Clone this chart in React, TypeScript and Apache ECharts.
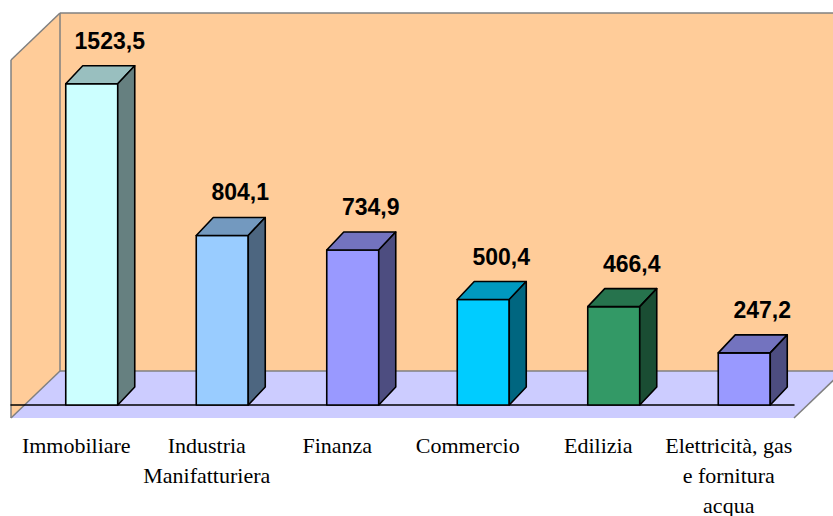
import React, { useEffect, useRef } from "react";
import * as echarts from "echarts";

const categories = [
  "Immobiliare",
  "Industria\nManifatturiera",
  "Finanza",
  "Commercio",
  "Edilizia",
  "Elettricità, gas\ne fornitura\nacqua",
];
const values = [1523.5, 804.1, 734.9, 500.4, 466.4, 247.2];
const valueLabels = ["1523,5", "804,1", "734,9", "500,4", "466,4", "247,2"];
const frontColors = ["#CCFFFF", "#99CCFF", "#9999FF", "#00CCFF", "#339966", "#9999FF"];
const topColors = ["#99BFBF", "#7399BF", "#7373BF", "#0099BF", "#26734D", "#7373BF"];
const sideColors = ["#668080", "#4D6680", "#4D4D80", "#006680", "#1A4D33", "#4D4D80"];

const DX = 17;
const DY = -18;
const BAR_W = 52;

export default function App() {
  const ref = useRef<HTMLDivElement>(null);
  useEffect(() => {
    document.body.style.margin = "0";
    if (!ref.current) return;
    const chart = echarts.init(ref.current, undefined, { renderer: "svg" });
    const grey = "#808080";
    const edge = { stroke: grey, lineWidth: 1.5 };
    const option: any = {
      animation: false,
      backgroundColor: "#ffffff",
      grid: { left: 11, right: 39, bottom: 111, top: 46.6, containLabel: false, outerBoundsMode: "none" },
      xAxis: {
        type: "category",
        data: categories,
        offset: 13,
        z: 3,
        axisLine: { lineStyle: { color: "#000", width: 1.5 } },
        axisTick: { length: 6, lineStyle: { color: "#000", width: 1 } },
        axisLabel: {
          interval: 0,
          margin: 12,
          color: "#000",
          fontFamily: "Liberation Serif",
          fontSize: 22,
          lineHeight: 30,
        },
      },
      yAxis: {
        type: "value",
        min: 0,
        max: 1700,
        show: false,
        splitLine: { show: false },
      },
      graphic: [
        { type: "polygon", z: 0, shape: { points: [[60, 13], [840, 13], [840, 371], [60, 371]] }, style: { fill: "#FFCC99" } },
        { type: "polygon", z: 0, shape: { points: [[11, 60], [60, 13], [60, 371], [11, 418]] }, style: { fill: "#FFCC99" } },
        { type: "polygon", z: 0, shape: { points: [[11, 418], [60, 371], [843, 371], [794, 418]] }, style: { fill: "#CCCCFF" } },
        { type: "line", z: 1, shape: { x1: 60, y1: 13, x2: 840, y2: 13 }, style: edge },
        { type: "line", z: 1, shape: { x1: 11, y1: 60, x2: 60, y2: 13 }, style: edge },
        { type: "line", z: 1, shape: { x1: 11, y1: 60, x2: 11, y2: 418 }, style: edge },
        { type: "line", z: 1, shape: { x1: 60, y1: 13, x2: 60, y2: 371 }, style: edge },
        { type: "line", z: 1, shape: { x1: 60, y1: 371, x2: 840, y2: 371 }, style: edge },
        { type: "line", z: 1, shape: { x1: 11, y1: 418, x2: 60, y2: 371 }, style: edge },
        { type: "line", z: 1, shape: { x1: 794, y1: 418, x2: 843, y2: 371 }, style: edge },
      ],
      series: [
        {
          type: "custom",
          z: 5,
          data: values.map((v, i) => [i, v]),
          renderItem: (params: any, api: any) => {
            const i = api.value(0);
            const top = api.coord([i, api.value(1)]);
            const base = api.coord([i, 0]);
            const x0 = base[0] - 10.5;
            const x1 = x0 + BAR_W;
            const yb = base[1];
            const yt = top[1];
            const line = { stroke: "#000", lineWidth: 1.6, lineJoin: "round" };
            return {
              type: "group",
              children: [
                {
                  type: "polygon",
                  shape: { points: [[x0, yt], [x1, yt], [x1, yb], [x0, yb]] },
                  style: { fill: frontColors[i], ...line },
                },
                {
                  type: "polygon",
                  shape: { points: [[x0, yt], [x0 + DX, yt + DY], [x1 + DX, yt + DY], [x1, yt]] },
                  style: { fill: topColors[i], ...line },
                },
                {
                  type: "polygon",
                  shape: { points: [[x1, yt], [x1 + DX, yt + DY], [x1 + DX, yb + DY], [x1, yb]] },
                  style: { fill: sideColors[i], ...line },
                },
                {
                  type: "text",
                  x: x0 + BAR_W / 2 + 18,
                  y: yt - 43,
                  style: {
                    text: valueLabels[i],
                    fill: "#000",
                    fontFamily: "Liberation Sans",
                    fontWeight: "bold",
                    fontSize: 23,
                    align: "center",
                    verticalAlign: "middle",
                  },
                },
              ],
            };
          },
        },
      ],
    };
    chart.setOption(option);
    return () => chart.dispose();
  }, []);
  return <div ref={ref} style={{ width: 833, height: 516 }} />;
}
